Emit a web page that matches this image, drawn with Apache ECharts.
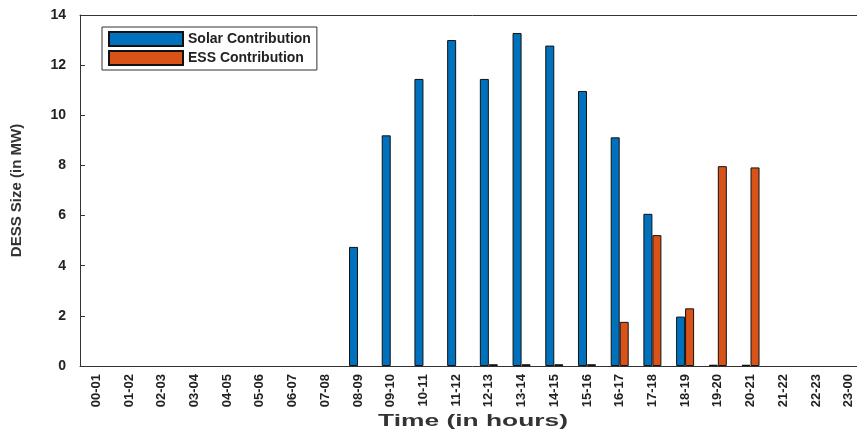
<!DOCTYPE html>
<html>
<head>
<meta charset="utf-8">
<script src="https://cdn.jsdelivr.net/npm/echarts@6/dist/echarts.min.js"></script>
<style>html,body{margin:0;padding:0;background:#fff;overflow:hidden}#c{width:865px;height:433px}</style>
</head>
<body>
<div id="c"></div>
<script>
var categories = ['00-01','01-02','02-03','03-04','04-05','05-06','06-07','07-08','08-09','09-10','10-11','11-12','12-13','13-14','14-15','15-16','16-17','17-18','18-19','19-20','20-21','21-22','22-23','23-00'];
var solarValues = [0,0,0,0,0,0,0,0,4.75,9.2,11.45,13.0,11.45,13.28,12.78,10.97,9.12,6.07,1.97,0.05,0.05,0,0,0];
var essValues   = [0,0,0,0,0,0,0,0,0,0,0,0,0.07,0.07,0.07,0.07,1.76,5.22,2.3,7.97,7.92,0,0,0];
var yTicks = [0,2,4,6,8,10,12,14];
var xTitle = 'Time (in hours)';
var yTitle = 'DESS Size (in MW)';

function toData(arr) {
  return arr.map(function (v) {
    return v === 0 ? {value: v, itemStyle: {borderWidth: 0}} : v;
  });
}

var font = 'Liberation Sans, Arial, sans-serif';
var chart = echarts.init(document.getElementById('c'));
chart.setOption({
  animation: false,
  grid: {left: 80, right: 0, top: 15, bottom: 67},
  legend: {
    orient: 'vertical', left: 102, top: 27,
    itemWidth: 74, itemHeight: 14, itemGap: 3,
    padding: [4, 6, 4, 6],
    borderColor: '#333', borderWidth: 1, backgroundColor: '#fff',
    textStyle: {fontFamily: font, fontWeight: 'bold', fontSize: 14, color: '#222'},
    data: [{name:'Solar Contribution', icon:'rect'}, {name:'ESS Contribution', icon:'rect'}]
  },
  graphic: [{
    type: 'text', x: 473, y: 421, scaleX: 1.55, scaleY: 1,
    style: {text: xTitle, font: 'bold 17px Liberation Sans, Arial, sans-serif', fill: '#333', align: 'center', verticalAlign: 'middle'}
  }],
  xAxis: [{
    type: 'category', data: categories, boundaryGap: true,
    axisLine: {lineStyle: {color: '#333', width: 1}},
    axisTick: {inside: true, alignWithLabel: true, length: 5, lineStyle: {color: '#333'}},
    axisLabel: {rotate: 90, interval: 0, fontFamily: font, fontWeight: 'bold', fontSize: 13, color: '#222', margin: 8},
    splitLine: {show: false}
  }, {
    type: 'category', data: categories, position: 'top', boundaryGap: true,
    axisLine: {lineStyle: {color: '#333', width: 1}},
    axisTick: {inside: true, alignWithLabel: true, length: 5, lineStyle: {color: '#333'}},
    axisLabel: {show: false}
  }],
  yAxis: {
    type: 'value', min: 0, max: 14, interval: 2,
    name: yTitle, nameLocation: 'middle', nameGap: 56, nameRotate: 90,
    nameTextStyle: {fontFamily: font, fontWeight: 'bold', fontSize: 15, color: '#333'},
    axisLine: {show: true, lineStyle: {color: '#333', width: 1}},
    axisTick: {show: true, inside: true, length: 5, lineStyle: {color: '#333'}},
    axisLabel: {fontFamily: font, fontWeight: 'bold', fontSize: 14, color: '#222', margin: 14,
      formatter: function(v){ return yTicks.indexOf(v) >= 0 ? String(v) : ''; }},
    splitLine: {show: false}
  },
  series: [{
    name: 'Solar Contribution', type: 'bar', data: toData(solarValues),
    barWidth: 9, barGap: '0%',
    itemStyle: {color: '#0072BD', borderColor: '#111', borderWidth: 1}
  }, {
    name: 'ESS Contribution', type: 'bar', data: toData(essValues),
    barWidth: 9, barGap: '0%',
    itemStyle: {color: '#D95319', borderColor: '#111', borderWidth: 1}
  }]
});
</script>
</body>
</html>
